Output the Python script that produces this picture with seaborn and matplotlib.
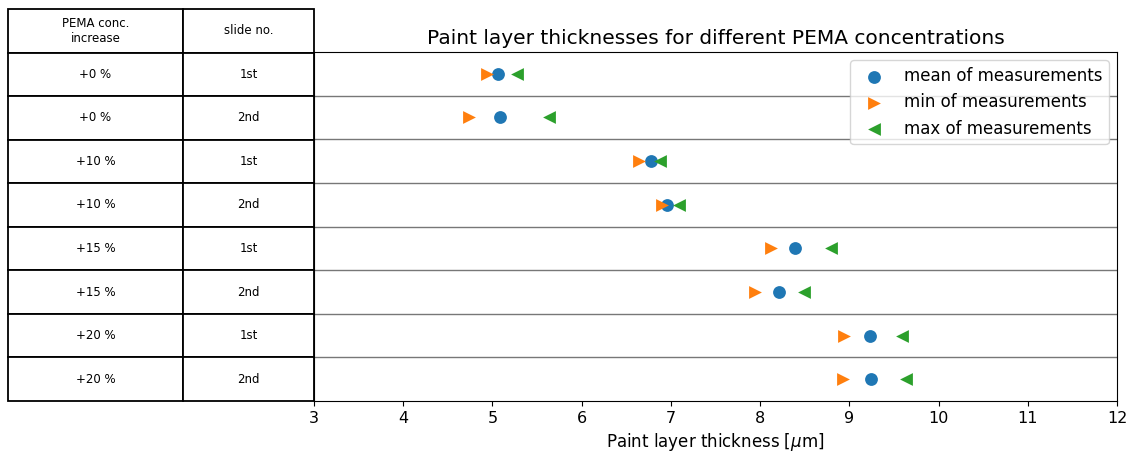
import matplotlib
matplotlib.use("Agg")
import matplotlib.pyplot as plt
import seaborn as sns
import pandas as pd
import numpy as np

# Sample descriptions (one row per slide)
conc_increase = ["+0 %", "+0 %", "+10 %", "+10 %", "+15 %", "+15 %", "+20 %", "+20 %"]
slide_no = ["1st", "2nd", "1st", "2nd", "1st", "2nd", "1st", "2nd"]
col_labels = ["PEMA conc.\nincrease", "slide no."]

# Paint layer thickness statistics in micrometres
mean_thickness = [5.06, 5.09, 6.78, 6.96, 8.39, 8.21, 9.23, 9.24]
min_thickness = [4.94, 4.74, 6.64, 6.90, 8.12, 7.94, 8.94, 8.93]
max_thickness = [5.28, 5.63, 6.88, 7.09, 8.80, 8.49, 9.59, 9.64]

x_ticks = [3, 4, 5, 6, 7, 8, 9, 10, 11, 12]

rows = np.arange(len(conc_increase))
df = pd.DataFrame({
    "row": rows,
    "mean": mean_thickness,
    "min": min_thickness,
    "max": max_thickness,
})

fig = plt.figure(figsize=(11.34, 4.57), dpi=100)
ax = fig.add_axes([314 / 1134, 1 - 401 / 457, (1117 - 314) / 1134, (401 - 52) / 457])

palette = sns.color_palette("tab10")
series = [
    ("mean", "o", palette[0], "mean of measurements"),
    ("min", ">", palette[1], "min of measurements"),
    ("max", "<", palette[2], "max of measurements"),
]
for col, marker, color, label in series:
    sns.scatterplot(data=df, x=col, y="row", marker=marker, color=color,
                    s=85, linewidth=0, label=label, ax=ax, zorder=3)

# separators between the slide rows
for b in rows[:-1] + 0.5:
    ax.axhline(b, color="#777777", linewidth=1.0, zorder=1)

ax.set_ylim(len(rows) - 0.5, -0.5)
ax.set_yticks([])
ax.set_ylabel("")
ax.set_xlim(3, 12)
ax.set_xticks(x_ticks)
ax.tick_params(axis="x", labelsize=11.5)
ax.set_xlabel(r"Paint layer thickness [$\mu$m]", fontsize=12)
ax.set_title("Paint layer thicknesses for different PEMA concentrations", fontsize=14.5)

ax.legend(loc="upper right", fontsize=12)

cell_text = [[c, s] for c, s in zip(conc_increase, slide_no)]
x0 = (8 - 314) / (1117 - 314)
table = ax.table(cellText=cell_text, colLabels=col_labels, cellLoc="center",
                 bbox=[x0, 0, -x0, (401 - 9) / (401 - 52)],
                 colWidths=[175 / 306, 131 / 306])
table.auto_set_font_size(False)
table.set_fontsize(8.5)
for cell in table.get_celld().values():
    cell.set_linewidth(1.3)

fig.savefig("out.png", dpi=100)
